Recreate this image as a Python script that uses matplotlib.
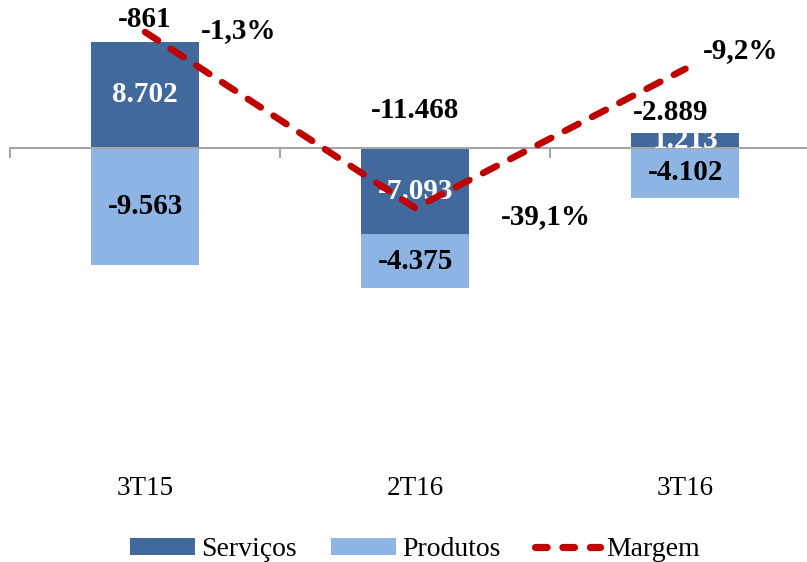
import matplotlib.pyplot as plt
from matplotlib.patches import Patch
from matplotlib.lines import Line2D

# --- DATA ---
periods = ['3T15', '2T16', '3T16']
servicos = [8702, -7093, 1213]
produtos = [-9563, -4375, -4102]
margem = [-1.3, -39.1, -9.2]

# --- STYLE ---
DARK = '#41699C'
LIGHT = '#8EB4E3'
RED = '#C00000'
SERIF = ['Liberation Serif', 'DejaVu Serif']

def fmt_num(v):
    return f"{v:,.0f}".replace(',', '.')

def fmt_pct(v):
    return f"{v:.1f}%".replace('.', ',')

plt.rcParams['font.family'] = SERIF

fig = plt.figure(figsize=(8.07, 5.62), dpi=100)
ax = fig.add_axes([10 / 807, 92 / 562, 797 / 807, 460 / 562])

x = list(range(len(periods)))
# stacked bars: positives go up from 0, negatives go down from 0
serv_bottom = [0 for _ in servicos]
prod_bottom = [min(s, 0) if p < 0 else max(s, 0) for s, p in zip(servicos, produtos)]

b1 = ax.bar(x, servicos, width=0.4, bottom=serv_bottom, color=DARK, zorder=2)
b2 = ax.bar(x, produtos, width=0.4, bottom=prod_bottom, color=LIGHT, zorder=2)

ax.bar_label(b1, labels=[fmt_num(v) for v in servicos], label_type='center',
             color='white', fontsize=21, fontweight='bold')
ax.bar_label(b2, labels=[fmt_num(v) for v in produtos], label_type='center',
             color='black', fontsize=21, fontweight='bold')

# totals above each stack
totals = [s + p for s, p in zip(servicos, produtos)]
total_offsets = [(0, 16), (0, 27), (-11, 15)]  # points from the top of the stack
for i, t in enumerate(totals):
    top = max(0, servicos[i])
    ax.annotate(fmt_num(t), xy=(i, top), xytext=total_offsets[i],
                textcoords='offset points', ha='center', va='center',
                fontsize=21, fontweight='bold')

ax.set_ylim(-26400, 11300)

# zero axis with boundary ticks
for side in ['top', 'right', 'left']:
    ax.spines[side].set_visible(False)
ax.spines['bottom'].set_position(('data', 0))
ax.spines['bottom'].set_color('#A6A6A6')
ax.spines['bottom'].set_linewidth(1.5)
ax.set_yticks([])
ax.set_xticks(x)
ax.set_xticklabels([])
ax.tick_params(axis='x', which='major', length=0)
ax.set_xticks([-0.5, 0.5, 1.5, 2.5], minor=True)
ax.tick_params(axis='x', which='minor', length=7, width=1.5, color='#A6A6A6',
               direction='out')

for i, name in enumerate(periods):
    ax.text(i, -0.040, name, transform=ax.get_xaxis_transform(),
            ha='center', va='center', fontsize=19.5)

# margin line on secondary axis
ax2 = ax.twinx()
ax2.set_ylim(-95.4, 3.44)
ax2.axis('off')
ax2.plot(x, margem, color=RED, linewidth=4.8, linestyle=(0, (2.3, 2.3)),
         dash_capstyle='round', zorder=5)

pct_offsets = [(67, 1), (94, -6), (40, 13)]
for i, m in enumerate(margem):
    ax2.annotate(fmt_pct(m), xy=(i, m), xytext=pct_offsets[i],
                 textcoords='offset points', ha='center', va='center',
                 fontsize=21, fontweight='bold')

# set after the twin plot so autoscaling does not override it
ax.set_xlim(-0.5, 2.45)
ax2.set_xlim(-0.5, 2.45)

handles = [
    Patch(facecolor=DARK, edgecolor='none'),
    Patch(facecolor=LIGHT, edgecolor='none'),
    Line2D([0], [0], color=RED, linewidth=5.2, linestyle=(0, (1.6, 2.2)),
           dash_capstyle='round'),
]
fig.legend(handles, ['Serviços', 'Produtos', 'Margem'], loc='center',
           bbox_to_anchor=(0.514, 12 / 562), ncol=3, frameon=False,
           fontsize=20, handlelength=2.35, handleheight=0.55,
           handletextpad=0.2, columnspacing=1.25)

plt.savefig('out.png', dpi=100)
